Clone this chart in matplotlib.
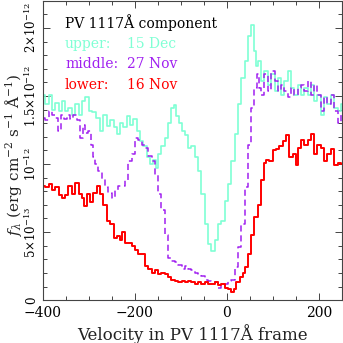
import matplotlib
matplotlib.use("Agg")
import matplotlib.pyplot as plt
from matplotlib.ticker import MultipleLocator

plt.rcParams['font.family'] = ['DejaVu Serif']
plt.rcParams['mathtext.fontset'] = 'dejavuserif'

# velocity (km/s) and flux (units of 1e-12)
v_upper = [-398, -391, -384, -377, -370, -362, -355, -348, -341, -333, -326, -319, -312, -304,
           -297, -290, -279, -272, -265, -258, -250, -243, -236, -229, -222, -214, -207, -200,
           -193, -185, -178, -171, -164, -157, -152, -146, -139, -131, -124, -117, -113, -108,
           -102, -95, -88, -81, -74, -66, -59, -52, -45, -38, -30, -23, -16, -9, -1, 6, 13, 20,
           27, 35, 42, 48, 55, 61, 66, 71, 78, 85, 92, 100, 107, 114, 121, 128, 136, 143, 150,
           157, 165, 172, 179, 186, 193, 200, 208, 215, 222, 229, 237, 244, 250]
f_upper = [1.51, 1.44, 1.51, 1.40, 1.45, 1.39, 1.46, 1.39, 1.41, 1.36, 1.44, 1.36, 1.46, 1.49,
           1.39, 1.38, 1.34, 1.24, 1.36, 1.28, 1.32, 1.27, 1.22, 1.30, 1.27, 1.35, 1.29, 1.33,
           1.24, 1.17, 1.13, 1.05, 1.00, 1.03, 0.97, 1.07, 1.13, 1.19, 1.30, 1.41, 1.43, 1.35,
           1.30, 1.24, 1.21, 1.12, 1.13, 1.05, 0.95, 0.78, 0.56, 0.41, 0.36, 0.44, 0.56, 0.58,
           0.73, 0.85, 1.02, 1.22, 1.44, 1.63, 1.76, 1.94, 2.02, 1.83, 1.72, 1.76, 1.61, 1.68,
           1.58, 1.66, 1.54, 1.63, 1.51, 1.61, 1.68, 1.56, 1.51, 1.58, 1.51, 1.56, 1.51, 1.58,
           1.46, 1.51, 1.36, 1.49, 1.44, 1.51, 1.41, 1.39, 1.44]

v_middle = [-398, -391, -384, -377, -370, -364, -359, -351, -344, -337, -330, -322, -315, -312,
            -304, -299, -294, -290, -283, -276, -268, -261, -254, -247, -240, -233, -226, -218,
            -211, -203, -196, -189, -182, -175, -167, -160, -153, -146, -139, -131, -124, -117,
            -110, -102, -95, -88, -81, -74, -66, -59, -52, -45, -38, -30, -23, -16, -9, -1, 6,
            13, 20, 27, 35, 42, 49, 56, 63, 67, 71, 78, 85, 92, 100, 107, 114, 121, 128, 136,
            143, 150, 157, 165, 172, 179, 186, 193, 200, 208, 215, 222, 229, 237, 244, 250]
f_middle = [1.34, 1.32, 1.39, 1.36, 1.34, 1.24, 1.36, 1.33, 1.36, 1.33, 1.36, 1.32, 1.19, 1.29,
            1.23, 1.24, 1.14, 1.05, 1.00, 0.95, 0.89, 0.83, 0.79, 0.75, 0.81, 0.84, 0.84, 0.88,
            1.02, 1.07, 1.19, 1.18, 1.14, 1.12, 1.06, 1.02, 0.92, 0.78, 0.66, 0.48, 0.31, 0.29,
            0.28, 0.26, 0.23, 0.25, 0.23, 0.22, 0.20, 0.19, 0.18, 0.15, 0.14, 0.13, 0.13, 0.09,
            0.11, 0.12, 0.14, 0.15, 0.24, 0.39, 0.56, 0.83, 1.14, 1.41, 1.56, 1.66, 1.56, 1.51,
            1.66, 1.54, 1.68, 1.61, 1.54, 1.58, 1.54, 1.49, 1.56, 1.51, 1.56, 1.58, 1.54, 1.61,
            1.51, 1.58, 1.51, 1.39, 1.49, 1.44, 1.51, 1.39, 1.30, 1.36]

v_lower = [-398, -391, -384, -377, -370, -362, -355, -348, -341, -333, -326, -319, -312, -308,
           -301, -294, -286, -279, -272, -265, -258, -250, -243, -236, -229, -225, -218, -211,
           -203, -196, -189, -182, -175, -167, -160, -153, -146, -139, -131, -124, -117, -110,
           -102, -95, -88, -81, -74, -66, -59, -52, -45, -38, -30, -23, -16, -9, -1, 6, 12, 17,
           24, 31, 38, 42, 49, 56, 63, 71, 78, 82, 89, 96, 103, 110, 117, 125, 132, 139, 147,
           152, 157, 165, 172, 179, 186, 193, 200, 208, 215, 222, 229, 237, 244, 250]
f_lower = [0.84, 0.83, 0.85, 0.81, 0.83, 0.77, 0.75, 0.77, 0.84, 0.78, 0.86, 0.78, 0.75, 0.69,
           0.78, 0.72, 0.79, 0.84, 0.78, 0.70, 0.58, 0.56, 0.46, 0.47, 0.44, 0.50, 0.42, 0.42,
           0.40, 0.37, 0.34, 0.34, 0.25, 0.23, 0.20, 0.22, 0.19, 0.20, 0.19, 0.17, 0.15, 0.14,
           0.13, 0.14, 0.13, 0.14, 0.13, 0.12, 0.13, 0.12, 0.13, 0.12, 0.12, 0.13, 0.11, 0.12,
           0.09, 0.08, 0.06, 0.08, 0.13, 0.17, 0.20, 0.24, 0.34, 0.48, 0.61, 0.70, 0.88, 1.01,
           1.03, 1.02, 1.10, 1.11, 1.13, 1.17, 1.21, 1.05, 1.07, 0.99, 1.12, 1.18, 1.14, 1.18,
           1.22, 1.07, 1.14, 1.12, 1.02, 1.07, 1.11, 0.99, 1.01, 1.00]

xtick_vals = [-400, -200, 0, 200]
xtick_labels = ['\u2212400', '\u2212200', '0', '200']
ytick_vals = [0, 0.5e-12, 1e-12, 1.5e-12, 2e-12]
ytick_labels = ['0', r'5$\times$10$^{-13}$', r'10$^{-12}$', r'1.5$\times$10$^{-12}$', r'2$\times$10$^{-12}$']

fig = plt.figure(figsize=(3.43, 3.43), dpi=100)
ax = fig.add_axes([0.125, 0.125, 0.872, 0.873])

ax.plot(v_upper, [f * 1e-12 for f in f_upper], drawstyle='steps-mid', color='#7fffd4', lw=1.2)
ax.plot(v_middle, [f * 1e-12 for f in f_middle], drawstyle='steps-mid', color='#a020f0', lw=1.1,
        ls=(0, (4, 2.5)))
ax.plot(v_lower, [f * 1e-12 for f in f_lower], drawstyle='steps-mid', color='red', lw=1.4)

ax.set_xlim(-400, 250)
ax.set_ylim(0, 2.2e-12)
ax.set_xticks(xtick_vals)
ax.set_xticklabels(xtick_labels)
ax.xaxis.set_minor_locator(MultipleLocator(50))
ax.set_yticks(ytick_vals)
ax.set_yticklabels(ytick_labels, rotation=90, va='center', fontsize=8.5)
ax.yaxis.set_minor_locator(MultipleLocator(1e-13))
ax.tick_params(which='both', direction='in', top=True, right=True, width=0.7, color='#444444')
ax.tick_params(which='major', length=5)
ax.tick_params(which='minor', length=2.8)
ax.tick_params(axis='x', labelsize=10, pad=4)
ax.tick_params(axis='y', pad=3)
for s in ax.spines.values():
    s.set_color('#444444')
    s.set_linewidth(0.8)

ax.set_xlabel('Velocity in PV 1117Å frame', fontsize=12, color='#222222', labelpad=3)
fig.text(0.04, 0.55, r'$f_\lambda$ (erg cm$^{-2}$ s$^{-1}$ Å$^{-1}$)', fontsize=11, color='#222222',
         rotation=90, ha='center', va='center')

ax.text(0.074, 0.927, 'PV 1117Å component', transform=ax.transAxes, fontsize=10, va='center')
ax.text(0.074, 0.855, 'upper:', transform=ax.transAxes, fontsize=10, va='center', color='#7fffd4')
ax.text(0.281, 0.855, '15 Dec', transform=ax.transAxes, fontsize=10, va='center', color='#7fffd4')
ax.text(0.074, 0.787, 'middle:', transform=ax.transAxes, fontsize=10, va='center', color='#a020f0')
ax.text(0.281, 0.787, '27 Nov', transform=ax.transAxes, fontsize=10, va='center', color='#a020f0')
ax.text(0.074, 0.72, 'lower:', transform=ax.transAxes, fontsize=10, va='center', color='red')
ax.text(0.281, 0.72, '16 Nov', transform=ax.transAxes, fontsize=10, va='center', color='red')

fig.savefig('out.png', dpi=100)
